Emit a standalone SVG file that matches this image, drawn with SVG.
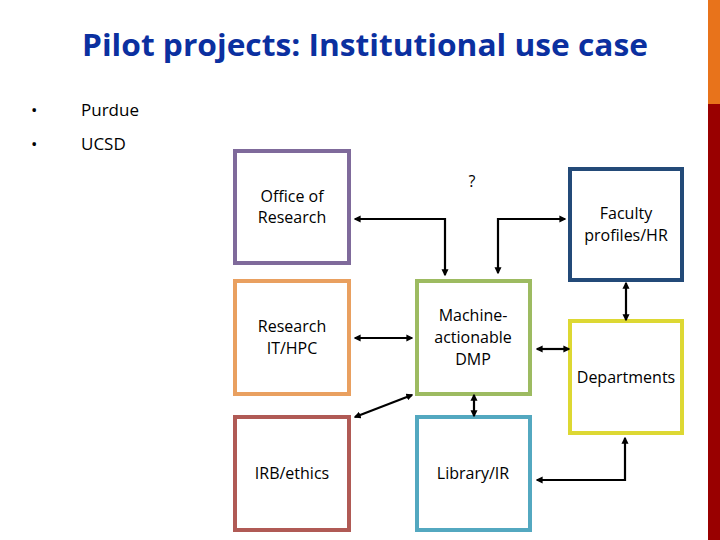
<svg xmlns="http://www.w3.org/2000/svg" width="720" height="540" viewBox="0 0 720 540">
<style>
.box{fill:#fff;stroke-width:4}
.t{font-family:"Open Sans","Liberation Sans",sans-serif;font-size:16px;fill:#000;text-anchor:middle}
.b{font-family:"Open Sans","Liberation Sans",sans-serif;font-size:17px;fill:#000}
.c{fill:none;stroke:#000;stroke-width:2.2}
</style>
<defs>
<marker id="ah" viewBox="0 0 10 10" refX="8" refY="5" markerWidth="3.2" markerHeight="3.2" orient="auto-start-reverse" markerUnits="strokeWidth">
<path d="M0,0 L10,5 L0,10 z" fill="#000"/>
</marker>
</defs>
<rect width="720" height="540" fill="#fff"/>
<rect x="708" y="0" width="12" height="104" fill="#E8731B"/>
<rect x="708" y="104" width="12" height="436" fill="#990000"/>
<text x="365" y="56" text-anchor="middle" font-family="'Open Sans','Liberation Sans',sans-serif" font-weight="bold" font-size="31" fill="#0B30A0" textLength="566" lengthAdjust="spacingAndGlyphs">Pilot projects: Institutional use case</text>
<text class="b" x="31" y="116">•</text><text class="b" x="81" y="116">Purdue</text>
<text class="b" x="31" y="150">•</text><text class="b" x="81" y="150">UCSD</text>
<text class="t" x="472" y="187">?</text>
<g id="office"><rect class="box" x="235" y="151" width="114" height="112" stroke="#7F6A9B"/><text class="t" x="292" y="202">Office of</text><text class="t" x="292" y="223">Research</text></g>
<g id="faculty"><rect class="box" x="570" y="169" width="112" height="111" stroke="#234A78"/><text class="t" x="626" y="219">Faculty</text><text class="t" x="626" y="241">profiles/HR</text></g>
<g id="researchit"><rect class="box" x="235" y="281" width="114" height="113" stroke="#E9A060"/><text class="t" x="292" y="332">Research</text><text class="t" x="292" y="354">IT/HPC</text></g>
<g id="dmp"><rect class="box" x="417" y="281" width="113" height="113" stroke="#9DBB61"/><text class="t" x="473" y="321">Machine-</text><text class="t" x="473" y="343">actionable</text><text class="t" x="473" y="365">DMP</text></g>
<g id="departments"><rect class="box" x="570" y="321" width="112" height="112" stroke="#DDD833"/><text class="t" x="626" y="383">Departments</text></g>
<g id="irb"><rect class="box" x="235" y="417" width="114" height="113" stroke="#B05A55"/><text class="t" x="292" y="479">IRB/ethics</text></g>
<g id="library"><rect class="box" x="417" y="417" width="113" height="113" stroke="#53A8C0"/><text class="t" x="473" y="479">Library/IR</text></g>
<g id="connectors">
<path class="c" d="M355,219 H445 V275" marker-start="url(#ah)" marker-end="url(#ah)"/>
<path class="c" d="M498,273 V219 H565" marker-start="url(#ah)" marker-end="url(#ah)"/>
<path class="c" d="M355,338 H412" marker-start="url(#ah)" marker-end="url(#ah)"/>
<path class="c" d="M537,349 H569" marker-start="url(#ah)" marker-end="url(#ah)"/>
<path class="c" d="M626,283 V320" marker-start="url(#ah)" marker-end="url(#ah)"/>
<path class="c" d="M412,395 L355,417" marker-start="url(#ah)" marker-end="url(#ah)"/>
<path class="c" d="M474,395 V416" marker-start="url(#ah)" marker-end="url(#ah)"/>
<path class="c" d="M537,480 H625 V438" marker-start="url(#ah)" marker-end="url(#ah)"/>
</g>
</svg>
